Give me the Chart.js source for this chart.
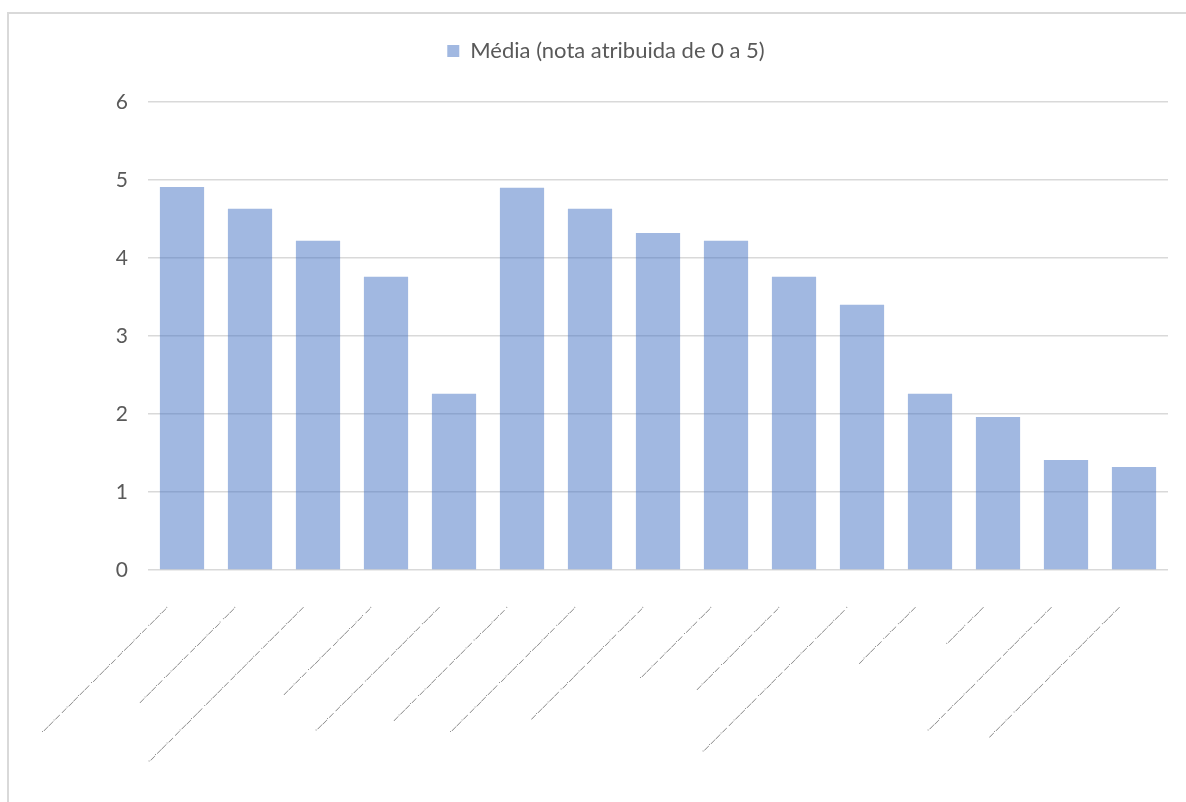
<!DOCTYPE html>
<html>
<head>
<meta charset="utf-8">
<script src="https://cdn.jsdelivr.net/npm/chart.js@4.4.1/dist/chart.umd.min.js"></script>
<style>
  html, body { margin: 0; padding: 0; background: #fff; overflow: hidden; width: 1186px; height: 802px; }
  #frame { position: absolute; left: 7px; top: 12px; width: 1300px; height: 900px; border-top: 2px solid #d9d9d9; border-left: 2px solid #d9d9d9; }
  #wrap { position: absolute; left: 0; top: 0; width: 1186px; height: 802px; }
</style>
</head>
<body>
<div id="frame"></div>
<div id="wrap"><canvas id="chart" width="1186" height="802"></canvas></div>
<script>
// category labels are illegible in the source (tiny rotated text), kept as dash strings
const categories = [
  '·——·— —·——·—— ·—·——·— —·——·—·— ·——·—·',
  '—·——·— ·—·——·— —·——·—·—· ·——·',
  '·—·——·— —·——·—— ·—·——·— —·——·—·— ·—·—— —·——·—',
  '——·—·— ·——·—— —·——·—·—· —·',
  '·——·— —·——·—— ·—·——·— —·——·—·— ·——·—',
  '—·——·— ·—·——·—— —·——·— ·—·——·—·— ·',
  '·——·— —·——·—— ·—·——·— —·——·—·— ·——·—·',
  '—·——·—— ·—·——·— —·——·—·— ·——·— —·',
  '·——·— —·——·— ·—·— ·——·',
  '—·——·— ·—·——·—·— ·——·— —·',
  '·—·——·— —·——·—— ·—·——·— —·——·—·— ·——·—·—— ·',
  '—·——·— ·—·— ·——·—',
  '·——·—· —·——',
  '·——·— —·——·—— ·—·——·— —·——·—·— ·——·—',
  '—·——·— ·—·——·—— —·——·— ·—·——·—·— ·——·—',
];
const serieName = 'Média (nota atribuida de 0 a 5)';
const serieValues = [4.91, 4.63, 4.22, 3.76, 2.26, 4.90, 4.63, 4.32, 4.22, 3.76, 3.40, 2.26, 1.96, 1.41, 1.32];
const yTicks = [0, 1, 2, 3, 4, 5, 6];

const textColor = '#595959';
const gridColor = '#d9d9d9';

// push the plot down below the legend
const legendGap = {
  id: 'legendGap',
  beforeInit(chart) {
    const fit = chart.legend.fit;
    chart.legend.fit = function () {
      fit.bind(chart.legend)();
      this.height += 30;
    };
  }
};

new Chart(document.getElementById('chart'), {
  type: 'bar',
  data: {
    labels: categories,
    datasets: [{
      label: serieName,
      data: serieValues,
      backgroundColor: 'rgba(68, 114, 196, 0.5)',
      borderWidth: 0,
      barPercentage: 0.65,
      categoryPercentage: 1.0,
    }]
  },
  options: {
    responsive: false,
    animation: false,
    layout: { padding: { left: 44, right: 18, top: 30, bottom: 0 } },
    plugins: {
      legend: {
        position: 'top',
        labels: {
          boxWidth: 12,
          boxHeight: 12,
          padding: 10,
          color: textColor,
          font: { family: 'Lato', size: 22 }
        }
      },
      tooltip: { enabled: false }
    },
    scales: {
      x: {
        grid: { display: false },
        border: { display: false },
        ticks: {
          color: '#3a3a3a',
          font: { family: 'DejaVu Sans', size: 7 },
          minRotation: 45,
          maxRotation: 45,
          autoSkip: false,
          padding: 26,
          labelOffset: -14
        },
        afterFit(scale) { scale.height = 232; }
      },
      y: {
        min: 0,
        max: 6,
        afterBuildTicks(scale) { scale.ticks = yTicks.map(v => ({ value: v })); },
        grid: { color: gridColor, lineWidth: 1.5, drawTicks: false },
        border: { display: false },
        ticks: {
          color: textColor,
          font: { family: 'Lato', size: 21 },
          padding: 20
        },
        afterFit(scale) { scale.width = 104; }
      }
    }
  },
  plugins: [legendGap]
});
</script>
</body>
</html>
